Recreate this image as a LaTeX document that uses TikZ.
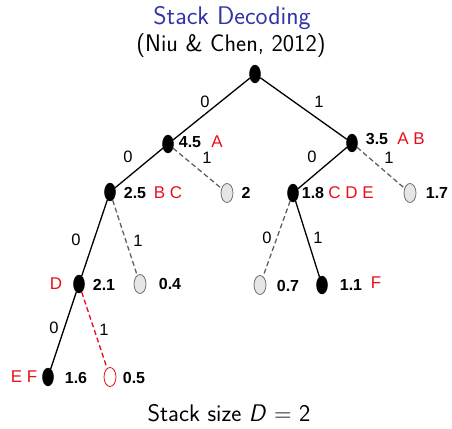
\documentclass[tikz,border=0pt]{standalone}
\usepackage{fontspec}
\newfontfamily\arial{Liberation Sans}
\usetikzlibrary{shapes.geometric}
\definecolor{tred}{HTML}{E8101A}
\definecolor{tblue}{HTML}{3434A8}
\definecolor{dgray}{HTML}{606060}
\definecolor{lfill}{HTML}{E6E6E6}
\definecolor{ogray}{HTML}{707070}
\begin{document}
\begin{tikzpicture}[x=1pt,y=-1pt,
  full/.style={ellipse, fill=black, draw=black, inner sep=0pt, minimum width=11pt, minimum height=18pt},
  open/.style={ellipse, fill=lfill, draw=ogray, line width=0.8pt, inner sep=0pt, minimum width=12pt, minimum height=19pt},
  openred/.style={open, fill=white, draw=tred},
  sol/.style={line width=1.3pt, black},
  dsh/.style={line width=1.3pt, dgray, dash pattern=on 5pt off 3pt},
  dshred/.style={dsh, tred},
  lab/.style={font=\arial\fontsize{16.5}{16.5}\selectfont, inner sep=0pt},
  val/.style={font=\arial\bfseries\fontsize{16}{16}\selectfont, inner sep=0pt},
  rlab/.style={font=\arial\fontsize{17}{17}\selectfont, inner sep=0pt, text=tred},
  ttl/.style={font=\sffamily\fontsize{25.5}{25.5}\selectfont, inner sep=0pt},
  sub/.style={font=\sffamily\fontsize{24}{24}\selectfont, inner sep=0pt}
]
\useasboundingbox (0,0) rectangle (452,428);
% title
\node[ttl, text=tblue] (title) at (232,18) {Stack Decoding};
\node[sub] (cite) at (231,46) {(Niu \& Chen, 2012)};
\node[sub] (cap) at (229,413) {Stack size \textit{D} = 2};
% nodes
\node[full] (root) at (255,74) {};
\node[full] (nA) at (168,144) {};
\node[full] (nAB) at (352,143) {};
\node[full] (nBC) at (110,192) {};
\node[open] (n2) at (227,193) {};
\node[full] (nCDE) at (293,193) {};
\node[open] (n17) at (410,193) {};
\node[full] (nD) at (79,284) {};
\node[open] (n04) at (140,284) {};
\node[open] (n07) at (260,285) {};
\node[full] (n11) at (322,285) {};
\node[full] (nEF) at (48,377) {};
\node[openred] (n05) at (110,377) {};
% edges
\draw[sol] (root) -- (nA);
\draw[sol] (root) -- (nAB);
\draw[sol] (nA) -- (nBC);
\draw[dsh] (nA) -- (n2);
\draw[sol] (nAB) -- (nCDE);
\draw[dsh] (nAB) -- (n17);
\draw[sol] (nBC) -- (nD);
\draw[dsh] (nBC) -- (n04);
\draw[dsh] (nCDE) -- (n07);
\draw[sol] (nCDE) -- (n11);
\draw[sol] (nD) -- (nEF);
\draw[dshred] (nD) -- (n05);
% edge labels
\node[lab] (e1) at (205,102) {0};
\node[lab] (e2) at (319,102) {1};
\node[lab] (e3) at (128,157) {0};
\node[lab] (e4) at (207,158) {1};
\node[lab] (e5) at (312,157) {0};
\node[lab] (e6) at (389,158) {1};
\node[lab] (e7) at (76,240) {0};
\node[lab] (e8) at (138,241) {1};
\node[lab] (e9) at (267,238) {0};
\node[lab] (e10) at (318,238) {1};
\node[lab] (e11) at (54,328) {0};
\node[lab] (e12) at (104,330) {1};
% values
\node[val] (v45) at (190,142) {4.5};
\node[rlab] (r1) at (217,142) {A};
\node[val] (v35) at (377,139) {3.5};
\node[rlab] (r2) at (411,139) {A B};
\node[val] (v25) at (135,193) {2.5};
\node[rlab] (r3) at (168,193) {B C};
\node[val] (v2) at (246,193) {2};
\node[val] (v18) at (313,193) {1.8};
\node[rlab] (r4) at (351,193) {C D E};
\node[val] (v17) at (437,193) {1.7};
\node[rlab] (r5) at (56,284) {D};
\node[val] (v21) at (104,285) {2.1};
\node[val] (v04) at (170,284) {0.4};
\node[val] (v07) at (288,286) {0.7};
\node[val] (v11) at (351,285) {1.1};
\node[rlab] (r6) at (376,283) {F};
\node[rlab] (r7) at (24,377) {E F};
\node[val] (v16) at (76,378) {1.6};
\node[val] (v05) at (134,378) {0.5};
\end{tikzpicture}
\end{document}
